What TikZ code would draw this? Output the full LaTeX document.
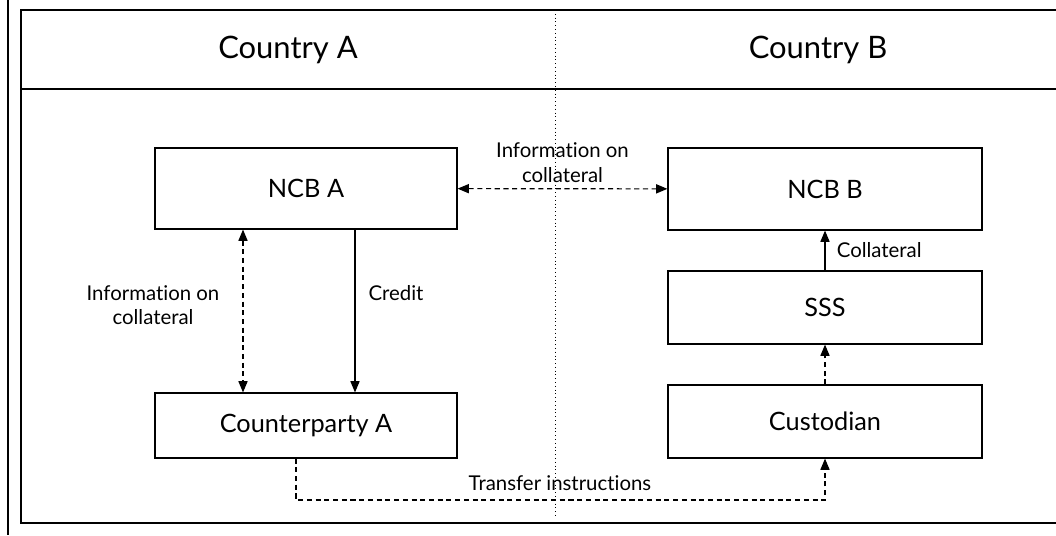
\documentclass[tikz,border=0pt]{standalone}
\usepackage{fontspec}
\setmainfont[Ligatures=NoCommon]{Lato}
\usetikzlibrary{arrows.meta}

\tikzset{boite/.style = {draw, line width=0.8pt, inner sep=0pt, font=\fontsize{18}{21}\selectfont},
         titre/.style = {font=\fontsize{22}{25}\selectfont},
         etiq/.style = {font=\fontsize{14.5}{17.5}\selectfont, align=center, inner sep=0pt},
         fleche/.style = {line width=0.8pt, -{Triangle[length=8pt,width=6.5pt]}},
         fleche2/.style = {line width=0.8pt, {Triangle[length=8pt,width=6.5pt]}-{Triangle[length=8pt,width=6.5pt]}},
         tirets/.style = {dash pattern=on 3.6pt off 2.6pt}
        }

\begin{document}
\begin{tikzpicture}[x=0.025cm, y=-0.025cm]
\useasboundingbox (0,0) rectangle (1056,535);
% cadre
\draw[line width=0.8pt] (8,0) -- (8,535);
\draw[line width=0.8pt] (1056,10) -- (21,10) -- (21,523) -- (1056,523);
\draw[line width=0.8pt] (21,89) -- (1056,89);
\draw[dotted, line width=0.7pt] (555,10) -- (555,518);
\node[titre] (pA) at (288,50) {Country A};
\node[titre] (pB) at (818,50) {Country B};
% boites
\foreach \n/\x/\y/\w/\h/\t in {ncbA/306/188.5/7.55/2.025/NCB A, ncbB/825/189/7.85/2.05/NCB B,
                               sss/825/307.5/7.85/1.825/SSS, cust/825/421.5/7.85/1.825/Custodian,
                               cpA/306/425.5/7.55/1.625/Counterparty A}
   \node[boite, minimum width=\w cm, minimum height=\h cm] (\n) at (\x,\y) {\t};
\coordinate (xi) at (243,0);
\coordinate (xc) at (355,0);
\coordinate (xt) at (296,500);
% fleches
\draw[fleche2, tirets] (ncbA) -- (ncbB) node[etiq, midway, above=4pt] {Information on\\collateral};
\draw[fleche2, tirets] (ncbA.south -| xi) -- (cpA.north -| xi);
\node[etiq] (info) at (153,305) {Information on\\collateral};
\draw[fleche] (ncbA.south -| xc) -- (cpA.north -| xc);
\node[etiq] (cred) at (396,293) {Credit};
\draw[fleche] (sss) -- (ncbB) node[etiq, midway, right=8pt] {Collateral};
\draw[fleche, tirets] (cust) -- (sss);
\draw[fleche, tirets] (cpA.south -| xt) -- (xt) -| (cust.south);
\node[etiq] (trans) at (560,483) {Transfer instructions};
\end{tikzpicture}
\end{document}
